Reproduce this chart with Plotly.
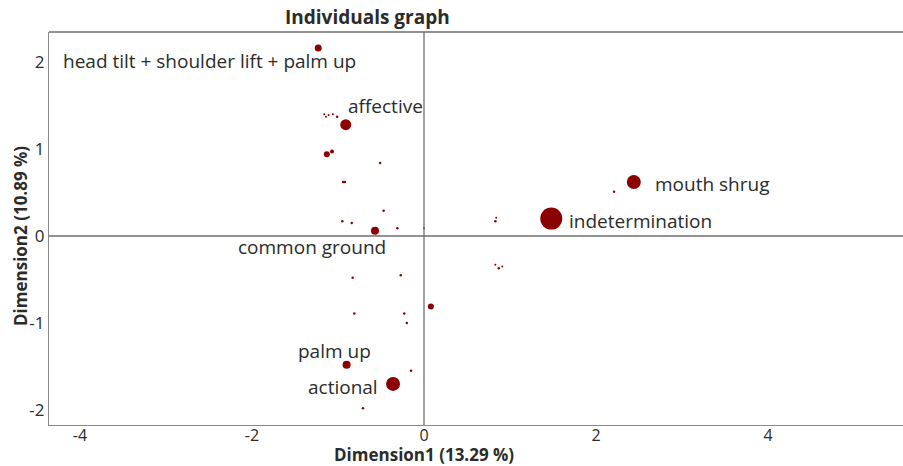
import plotly.graph_objects as go

# ---- data ----
labels = ["head tilt + shoulder lift + palm up", "affective", "mouth shrug",
          "indetermination", "common ground", "palm up", "actional"] + [""] * 29
dim1 = [-1.23, -0.91, 2.44, 1.48, -0.57, -0.90, -0.36,
        -1.16, -1.14, -1.11, -1.06, -1.01, -1.13, -1.07, -0.51, -0.94, -0.92,
        -0.47, -0.95, -0.84, -0.31, 0.00, -0.83, -0.27, -0.81, -0.23, -0.20,
        0.08, -0.15, -0.71, 2.21, 0.84, 0.83, 0.83, 0.87, 0.91]
dim2 = [2.16, 1.28, 0.62, 0.20, 0.06, -1.48, -1.70,
        1.40, 1.37, 1.39, 1.40, 1.37, 0.94, 0.97, 0.84, 0.62, 0.62,
        0.29, 0.17, 0.15, 0.09, 0.09, -0.48, -0.45, -0.89, -0.89, -1.00,
        -0.81, -1.55, -1.98, 0.51, 0.21, 0.17, -0.33, -0.37, -0.35]
weight = [7, 11, 14, 22, 8, 8, 14,
          2, 2, 2, 2, 2.5, 6, 4, 2.5, 2.5, 2.5,
          2.5, 2.5, 2.5, 2.5, 2, 2.5, 2.5, 2.5, 2.5, 2.5,
          6, 2.5, 2.5, 2.5, 2, 2.5, 2, 2.5, 2]
x_ticks = [-4, -2, 0, 2, 4]
y_ticks = [-2, -1, 0, 1, 2]

# label placement (pixels relative to the point)
label_style = {
    "head tilt + shoulder lift + palm up": dict(xanchor="right", xshift=40, yshift=-13),
    "affective": dict(xanchor="left", xshift=0, yshift=19),
    "mouth shrug": dict(xanchor="left", xshift=19, yshift=-2),
    "indetermination": dict(xanchor="left", xshift=16, yshift=-2),
    "common ground": dict(xanchor="right", xshift=13, yshift=-16),
    "palm up": dict(xanchor="right", xshift=26, yshift=14),
    "actional": dict(xanchor="right", xshift=-13, yshift=-3),
}

FONT = "Open Sans"
TXT = "#2b2b2b"
RED = "#8b0000"

fig = go.Figure()
fig.add_trace(go.Scatter(
    x=dim1, y=dim2, mode="markers",
    marker=dict(size=weight, sizemode="diameter", color=RED, opacity=1,
                line=dict(width=0)),
    hovertext=labels, showlegend=False))

annotations = []
for lab, xv, yv in zip(labels, dim1, dim2):
    if lab:
        st = label_style[lab]
        annotations.append(dict(x=xv, y=yv, text=lab, showarrow=False,
                                xanchor=st["xanchor"], yanchor="middle",
                                xshift=st["xshift"], yshift=st["yshift"],
                                font=dict(family=FONT, size=19, color=TXT)))
annotations += [
    dict(x=(367 - 49) / 854, y=1, xref="paper", yref="paper", yanchor="middle",
         yshift=15, text="<b>Individuals graph</b>", showarrow=False,
         font=dict(family=FONT, size=19, color=TXT)),
    dict(x=0, y=0, xref="x", yref="paper", yanchor="middle", yshift=-29,
         borderpad=0, text="<b>Dimension1 (13.29 %)</b>", showarrow=False,
         font=dict(family=FONT, size=17, color=TXT)),
    dict(x=0, y=0, xref="paper", yref="y", xanchor="center", xshift=-29,
         textangle=-90, text="<b>Dimension2 (10.89 %)</b>", showarrow=False,
         font=dict(family=FONT, size=17, color=TXT)),
]

xr = [(49 - 424) / 86, (903 - 424) / 86]
yr = [-(425 - 236) / 87, (236 - 32) / 87]

fig.update_layout(
    width=903, height=466,
    margin=dict(l=49, r=0, t=32, b=41),
    paper_bgcolor="white", plot_bgcolor="white",
    font=dict(family=FONT, color=TXT),
    annotations=annotations,
    shapes=[
        dict(type="line", xref="x", yref="paper", x0=0, x1=0, y0=0, y1=1,
             line=dict(color="#6e6e6e", width=1.3)),
        dict(type="line", xref="paper", yref="y", x0=0, x1=1, y0=0, y1=0,
             line=dict(color="#6e6e6e", width=1.3)),
        dict(type="line", xref="paper", yref="paper", x0=0, x1=1, y0=1, y1=1,
             line=dict(color="#6e6e6e", width=1.3)),
    ],
    xaxis=dict(range=xr, tickvals=x_ticks, ticktext=[str(v) for v in x_ticks],
               automargin=False, showgrid=False, zeroline=False, showline=True,
               linecolor="#8a8a8a", linewidth=1.3, ticks="", ticklabelstandoff=-4,
               tickfont=dict(family=FONT, size=16, color=TXT)),
    yaxis=dict(range=yr, tickvals=y_ticks, ticktext=[str(v) for v in y_ticks],
               automargin=False, showgrid=False, zeroline=False, showline=True,
               linecolor="#8a8a8a", linewidth=1.3, ticks="",
               tickfont=dict(family=FONT, size=17, color=TXT)),
)

fig.write_html("out.html", config={"displayModeBar": False},
               post_script="document.body.style.margin='0';"
                           "document.body.style.overflow='hidden';")
